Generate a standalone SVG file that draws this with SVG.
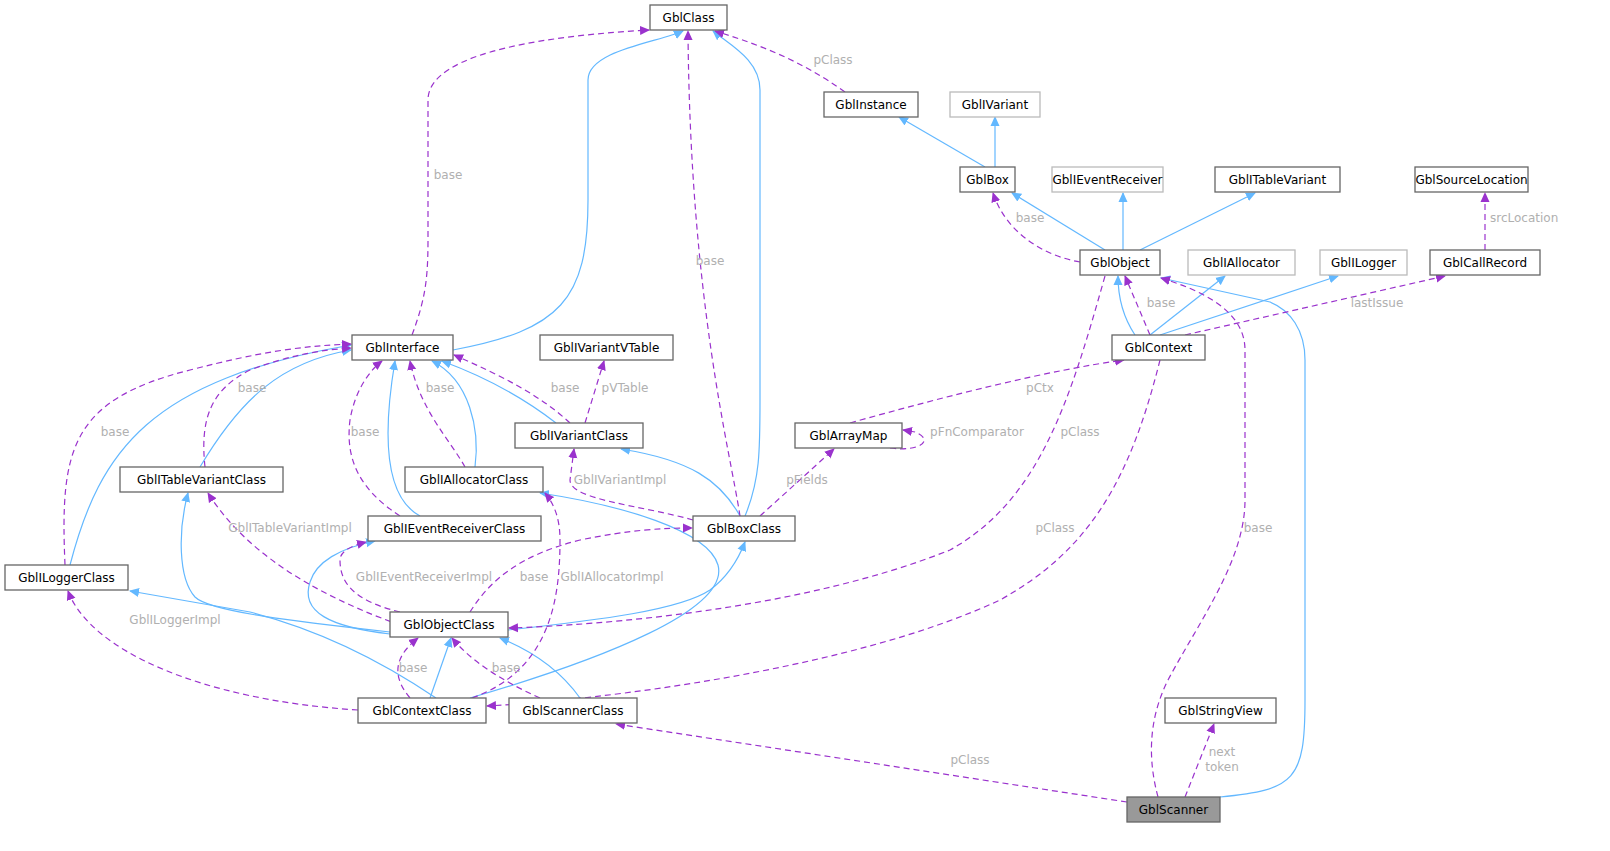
<svg xmlns="http://www.w3.org/2000/svg" width="1610" height="851" viewBox="0 0 1610 851">
<style>
.n rect{fill:#fff;stroke:#666;stroke-width:1.3}
.g rect{fill:#fff;stroke:#bbb;stroke-width:1.3}
text{font-family:"DejaVu Sans",sans-serif;font-size:12px;fill:#000}
.lb{fill:#b0b0b0;font-size:12px}
.b{fill:none;stroke:#63b8ff;stroke-width:1.2}
.p{fill:none;stroke:#9a32cd;stroke-width:1.2;stroke-dasharray:6,4}
</style>
<defs>
<marker id="ab" markerWidth="10" markerHeight="10" refX="9" refY="5" orient="auto" markerUnits="userSpaceOnUse"><path d="M0,0.5 L10,5 L0,9.5z" fill="#63b8ff"/></marker>
<marker id="ap" markerWidth="10" markerHeight="10" refX="9" refY="5" orient="auto" markerUnits="userSpaceOnUse"><path d="M0,0.5 L10,5 L0,9.5z" fill="#9a32cd"/></marker>
</defs>
<rect width="1610" height="851" fill="#fff"/>
<g id="edges">
<path class="b" marker-end="url(#ab)" d="M453,350 C560,330 588,300 588,200 L588,80 C588,50 660,42 683,31"/>
<path class="b" marker-end="url(#ab)" d="M745,516 C760,480 760,450 760,400 L760,90 C760,60 730,45 713,31"/>
<path class="b" marker-end="url(#ab)" d="M985,167 L899,117"/>
<path class="b" marker-end="url(#ab)" d="M995,167 L995,117"/>
<path class="b" marker-end="url(#ab)" d="M1105,250 L1012,193"/>
<path class="b" marker-end="url(#ab)" d="M1123,250 L1123,193"/>
<path class="b" marker-end="url(#ab)" d="M1140,250 L1255,193"/>
<path class="b" marker-end="url(#ab)" d="M1135,335 C1125,320 1118,300 1118,276"/>
<path class="b" marker-end="url(#ab)" d="M1150,335 L1225,276"/>
<path class="b" marker-end="url(#ab)" d="M1160,335 L1338,276"/>
<path class="b" marker-end="url(#ab)" d="M1220,797 C1295,790 1305,780 1305,700 L1305,360 C1305,330 1290,310 1270,302 L1161,278"/>
<path class="b" marker-end="url(#ab)" d="M200,467 C240,400 280,362 351,350"/>
<path class="b" marker-end="url(#ab)" d="M70,565 C100,450 150,380 351,345"/>
<path class="b" marker-end="url(#ab)" d="M420,516 C390,500 380,450 395,361"/>
<path class="b" marker-end="url(#ab)" d="M475,467 C480,430 470,380 432,361"/>
<path class="b" marker-end="url(#ab)" d="M556,423 C520,395 480,375 442,361"/>
<path class="b" marker-end="url(#ab)" d="M740,516 C720,480 690,460 621,449"/>
<path class="b" marker-end="url(#ab)" d="M390,632 C300,622 210,612 195,597 C178,578 178,530 188,493"/>
<path class="b" marker-end="url(#ab)" d="M390,634 C330,627 300,612 310,582 C316,562 340,548 375,541"/>
<path class="b" marker-end="url(#ab)" d="M508,630 C600,620 680,610 710,590 C730,575 740,555 745,542"/>
<path class="b" marker-end="url(#ab)" d="M470,698 C600,660 730,610 718,565 C708,530 620,505 540,493"/>
<path class="b" marker-end="url(#ab)" d="M436,698 C380,660 320,630 250,612 L130,591"/>
<path class="b" marker-end="url(#ab)" d="M430,698 L451,638"/>
<path class="b" marker-end="url(#ab)" d="M580,698 C560,670 530,650 500,638"/>

<path class="p" marker-end="url(#ap)" d="M412,335 C425,300 428,280 428,240 L428,100 C428,50 560,35 649,30"/>
<path class="p" marker-end="url(#ap)" d="M740,516 C730,450 690,300 688,31"/>
<path class="p" marker-end="url(#ap)" d="M845,92 C800,60 760,45 715,31"/>
<path class="p" marker-end="url(#ap)" d="M1080,262 C1040,255 1005,230 993,193"/>
<path class="p" marker-end="url(#ap)" d="M1485,250 L1485,193"/>
<path class="p" marker-end="url(#ap)" d="M1150,335 L1125,276"/>
<path class="p" marker-end="url(#ap)" d="M1185,335 L1445,276"/>
<path class="p" marker-end="url(#ap)" d="M1158,797 C1148,760 1148,720 1168,680 C1200,620 1245,560 1245,500 L1245,350 C1245,310 1200,290 1161,278"/>
<path class="p" marker-end="url(#ap)" d="M1185,797 L1214,724"/>
<path class="p" marker-end="url(#ap)" d="M1127,802 L616,724"/>
<path class="p" marker-end="url(#ap)" d="M850,423 C950,395 1050,370 1124,360"/>
<path class="p" marker-end="url(#ap)" d="M890,448 C920,452 935,440 915,432 L903,430"/>
<path class="p" marker-end="url(#ap)" d="M1105,276 C1070,400 1040,500 950,550 C800,610 600,625 509,628"/>
<path class="p" marker-end="url(#ap)" d="M1160,360 C1130,480 1090,550 1000,600 C850,670 600,700 487,706"/>
<path class="p" marker-end="url(#ap)" d="M585,423 L604,361"/>
<path class="p" marker-end="url(#ap)" d="M570,423 C540,395 500,375 454,355"/>
<path class="p" marker-end="url(#ap)" d="M693,520 C640,505 570,500 570,480 L574,449"/>
<path class="p" marker-end="url(#ap)" d="M760,516 L834,449"/>
<path class="p" marker-end="url(#ap)" d="M470,612 C490,580 520,555 580,540 C630,530 660,528 692,528"/>
<path class="p" marker-end="url(#ap)" d="M400,612 C350,600 340,580 340,560 C340,550 355,545 366,542"/>
<path class="p" marker-end="url(#ap)" d="M400,625 C330,600 250,560 208,493"/>
<path class="p" marker-end="url(#ap)" d="M472,698 C550,670 560,600 560,540 C560,520 555,505 545,493"/>
<path class="p" marker-end="url(#ap)" d="M410,698 C395,680 390,660 418,638"/>
<path class="p" marker-end="url(#ap)" d="M540,698 C500,680 470,660 452,638"/>
<path class="p" marker-end="url(#ap)" d="M358,710 C200,700 90,650 68,591"/>
<path class="p" marker-end="url(#ap)" d="M65,565 C60,450 70,400 190,370 C260,352 300,346 351,344"/>
<path class="p" marker-end="url(#ap)" d="M205,467 C200,420 210,390 250,370 C290,355 320,350 351,348"/>
<path class="p" marker-end="url(#ap)" d="M400,516 C360,490 345,460 350,420 C355,390 370,370 382,361"/>
<path class="p" marker-end="url(#ap)" d="M465,467 C450,440 420,410 410,361"/>
</g>
<g id="labels" class="lbs">
<text class="lb" x="448" y="179" text-anchor="middle">base</text>
<text class="lb" x="710" y="265" text-anchor="middle">base</text>
<text class="lb" x="833" y="64" text-anchor="middle">pClass</text>
<text class="lb" x="1030" y="222" text-anchor="middle">base</text>
<text class="lb" x="1490" y="222">srcLocation</text>
<text class="lb" x="1161" y="307" text-anchor="middle">base</text>
<text class="lb" x="1377" y="307" text-anchor="middle">lastIssue</text>
<text class="lb" x="1258" y="532" text-anchor="middle">base</text>
<text class="lb" x="1222" y="756" text-anchor="middle">next</text>
<text class="lb" x="1222" y="771" text-anchor="middle">token</text>
<text class="lb" x="970" y="764" text-anchor="middle">pClass</text>
<text class="lb" x="1040" y="392" text-anchor="middle">pCtx</text>
<text class="lb" x="977" y="436" text-anchor="middle">pFnComparator</text>
<text class="lb" x="1080" y="436" text-anchor="middle">pClass</text>
<text class="lb" x="1055" y="532" text-anchor="middle">pClass</text>
<text class="lb" x="625" y="392" text-anchor="middle">pVTable</text>
<text class="lb" x="565" y="392" text-anchor="middle">base</text>
<text class="lb" x="620" y="484" text-anchor="middle">GblIVariantImpl</text>
<text class="lb" x="807" y="484" text-anchor="middle">pFields</text>
<text class="lb" x="534" y="581" text-anchor="middle">base</text>
<text class="lb" x="424" y="581" text-anchor="middle">GblIEventReceiverImpl</text>
<text class="lb" x="290" y="532" text-anchor="middle">GblITableVariantImpl</text>
<text class="lb" x="612" y="581" text-anchor="middle">GblIAllocatorImpl</text>
<text class="lb" x="413" y="672" text-anchor="middle">base</text>
<text class="lb" x="506" y="672" text-anchor="middle">base</text>
<text class="lb" x="175" y="624" text-anchor="middle">GblILoggerImpl</text>
<text class="lb" x="115" y="436" text-anchor="middle">base</text>
<text class="lb" x="252" y="392" text-anchor="middle">base</text>
<text class="lb" x="365" y="436" text-anchor="middle">base</text>
<text class="lb" x="440" y="392" text-anchor="middle">base</text>
</g>
<g id="GblClass" class="n"><rect x="650" y="5" width="77" height="25"/><text x="688.5" y="22" text-anchor="middle">GblClass</text></g>
<g id="GblInstance" class="n"><rect x="824" y="92" width="94" height="25"/><text x="871" y="109" text-anchor="middle">GblInstance</text></g>
<g id="GblIVariant" class="g"><rect x="950" y="92" width="90" height="25"/><text x="995" y="109" text-anchor="middle">GblIVariant</text></g>
<g id="GblBox" class="n"><rect x="960" y="167" width="55" height="25"/><text x="987.5" y="184" text-anchor="middle">GblBox</text></g>
<g id="GblIEventReceiver" class="g"><rect x="1052" y="167" width="111" height="25"/><text x="1107.5" y="184" text-anchor="middle">GblIEventReceiver</text></g>
<g id="GblITableVariant" class="n"><rect x="1215" y="167" width="125" height="25"/><text x="1277.5" y="184" text-anchor="middle">GblITableVariant</text></g>
<g id="GblSourceLocation" class="n"><rect x="1415" y="167" width="113" height="25"/><text x="1471.5" y="184" text-anchor="middle">GblSourceLocation</text></g>
<g id="GblObject" class="n"><rect x="1080" y="250" width="80" height="25"/><text x="1120" y="267" text-anchor="middle">GblObject</text></g>
<g id="GblIAllocator" class="g"><rect x="1188" y="250" width="107" height="25"/><text x="1241.5" y="267" text-anchor="middle">GblIAllocator</text></g>
<g id="GblILogger" class="g"><rect x="1320" y="250" width="87" height="25"/><text x="1363.5" y="267" text-anchor="middle">GblILogger</text></g>
<g id="GblCallRecord" class="n"><rect x="1430" y="250" width="110" height="25"/><text x="1485" y="267" text-anchor="middle">GblCallRecord</text></g>
<g id="GblContext" class="n"><rect x="1112" y="335" width="93" height="25"/><text x="1158.5" y="352" text-anchor="middle">GblContext</text></g>
<g id="GblInterface" class="n"><rect x="352" y="335" width="101" height="25"/><text x="402.5" y="352" text-anchor="middle">GblInterface</text></g>
<g id="GblIVariantVTable" class="n"><rect x="540" y="335" width="133" height="25"/><text x="606.5" y="352" text-anchor="middle">GblIVariantVTable</text></g>
<g id="GblIVariantClass" class="n"><rect x="515" y="423" width="128" height="25"/><text x="579" y="440" text-anchor="middle">GblIVariantClass</text></g>
<g id="GblArrayMap" class="n"><rect x="795" y="423" width="107" height="25"/><text x="848.5" y="440" text-anchor="middle">GblArrayMap</text></g>
<g id="GblITableVariantClass" class="n"><rect x="120" y="467" width="163" height="25"/><text x="201.5" y="484" text-anchor="middle">GblITableVariantClass</text></g>
<g id="GblIAllocatorClass" class="n"><rect x="405" y="467" width="138" height="25"/><text x="474" y="484" text-anchor="middle">GblIAllocatorClass</text></g>
<g id="GblIEventReceiverClass" class="n"><rect x="368" y="516" width="173" height="25"/><text x="454.5" y="533" text-anchor="middle">GblIEventReceiverClass</text></g>
<g id="GblBoxClass" class="n"><rect x="693" y="516" width="102" height="25"/><text x="744" y="533" text-anchor="middle">GblBoxClass</text></g>
<g id="GblILoggerClass" class="n"><rect x="5" y="565" width="123" height="25"/><text x="66.5" y="582" text-anchor="middle">GblILoggerClass</text></g>
<g id="GblObjectClass" class="n"><rect x="390" y="612" width="118" height="25"/><text x="449" y="629" text-anchor="middle">GblObjectClass</text></g>
<g id="GblContextClass" class="n"><rect x="358" y="698" width="128" height="25"/><text x="422" y="715" text-anchor="middle">GblContextClass</text></g>
<g id="GblScannerClass" class="n"><rect x="509" y="698" width="128" height="25"/><text x="573" y="715" text-anchor="middle">GblScannerClass</text></g>
<g id="GblStringView" class="n"><rect x="1165" y="698" width="111" height="25"/><text x="1220.5" y="715" text-anchor="middle">GblStringView</text></g>
<g id="GblScanner"><rect x="1127" y="797" width="93" height="25" fill="#999" stroke="#666" stroke-width="1.3"/><text x="1173.5" y="814" text-anchor="middle">GblScanner</text></g>
</svg>
